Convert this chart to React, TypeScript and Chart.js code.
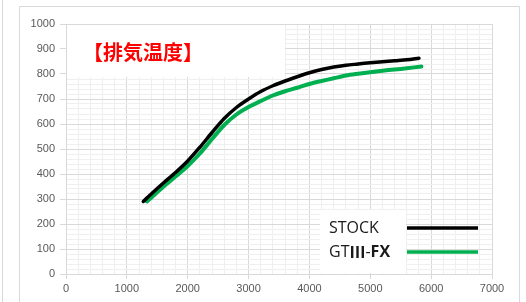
import { useEffect, useRef } from "react";
import { Chart, registerables } from "chart.js";

Chart.register(...registerables);

const TITLE = "【排気温度】";
const SERIES_NAMES = ["STOCK", "GTⅢ-FX"];

const RPM_STOCK = [1270, 1400, 1600, 1800, 2000, 2200, 2400, 2600, 2800, 3000, 3200, 3400, 3600, 3800, 4000, 4200, 4400, 4600, 4800, 5000, 5200, 5400, 5600, 5800];
const TEMP_STOCK = [290, 320, 364, 406, 452, 507, 566, 622, 666, 700, 730, 753, 772, 789, 805, 818, 828, 835, 840, 845, 849, 853, 857, 863];

const RPM_FX = [1330, 1400, 1600, 1800, 2000, 2200, 2400, 2600, 2800, 3000, 3200, 3400, 3600, 3800, 4000, 4200, 4400, 4600, 4800, 5000, 5200, 5400, 5600, 5840];
const TEMP_FX = [290, 305, 349, 390, 432, 482, 540, 596, 638, 668, 692, 714, 731, 745, 760, 772, 783, 794, 801, 807, 813, 818, 823, 830];

const X_MIN = 0, X_MAX = 7000, X_MAJOR = 1000, X_MINOR = 200;
const Y_MIN = 0, Y_MAX = 1000, Y_MAJOR = 100, Y_MINOR = 20;

const COLORS = ["#000000", "#00b050"];
const MAJOR_GRID = "#d9d9d9";
const MINOR_GRID = "#efefef";

const LEGEND_FONT = "'Open Sans', 'Noto Sans CJK JP'";
const CJK_FONT = "'Noto Sans CJK JP'";

const framePlugin = {
  id: "frame",
  beforeDraw(chart: any) {
    const ctx = chart.ctx;
    ctx.save();
    ctx.fillStyle = "#ffffff";
    ctx.fillRect(0, 0, chart.width, chart.height);
    ctx.strokeStyle = "#d9d9d9";
    ctx.lineWidth = 1;
    ctx.beginPath();
    ctx.moveTo(2.5, 0);
    ctx.lineTo(2.5, chart.height);
    ctx.moveTo(19.5, chart.height + 5);
    ctx.lineTo(19.5, 6.5);
    ctx.lineTo(519.5, 6.5);
    ctx.lineTo(519.5, chart.height + 5);
    ctx.stroke();
    ctx.restore();
  },
  beforeDatasetsDraw(chart: any) {
    const ctx = chart.ctx;
    const a = chart.chartArea;
    ctx.save();
    // title box
    ctx.fillStyle = "#ffffff";
    ctx.fillRect(a.left + 1, a.top + 1, 218, 52);
    ctx.fillStyle = "#ff0000";
    ctx.font = "bold 20px " + CJK_FONT;
    ctx.textBaseline = "middle";
    ctx.textAlign = "left";
    ctx.fillText(TITLE, 83, 52);
    // legend box
    ctx.fillStyle = "#ffffff";
    ctx.fillRect(320, 210, 86, a.bottom - 210 - 1);
    ctx.fillStyle = "#1a1a1a";
    ctx.font = "16px " + LEGEND_FONT;
    ctx.fillText(SERIES_NAMES[0], 329, 228);
    // second name: "GT" + "Ⅲ" (CJK glyph) + "-" + bold "FX"
    const name = SERIES_NAMES[1];
    const romanIdx = name.indexOf("Ⅲ");
    const dashIdx = name.indexOf("-");
    const parts = [
      { t: name.slice(0, romanIdx), f: "16px " + LEGEND_FONT },
      { t: name.slice(romanIdx, dashIdx), f: "bold 16px " + CJK_FONT },
      { t: name.slice(dashIdx, dashIdx + 1), f: "16px " + LEGEND_FONT },
      { t: name.slice(dashIdx + 1), f: "bold 16px " + LEGEND_FONT },
    ];
    let x = 329;
    parts.forEach((p) => {
      ctx.font = p.f;
      ctx.fillText(p.t, x, 252);
      x += ctx.measureText(p.t).width;
    });
    // legend lines
    ctx.lineWidth = 3.5;
    ctx.lineCap = "butt";
    [228, 252].forEach((y, i) => {
      ctx.strokeStyle = COLORS[i];
      ctx.beginPath();
      ctx.moveTo(407, y);
      ctx.lineTo(478, y);
      ctx.stroke();
    });
    ctx.restore();
  },
};

export default function App() {
  const ref = useRef<HTMLCanvasElement>(null);
  useEffect(() => {
    if (!ref.current) return;
    const tickFont = { family: "'Liberation Sans', Arial, sans-serif", size: 11 };
    const chart = new Chart(ref.current, {
      type: "line",
      data: {
        datasets: [
          {
            label: SERIES_NAMES[0],
            data: RPM_STOCK.map((x, i) => ({ x, y: TEMP_STOCK[i] })),
            borderColor: COLORS[0],
            borderWidth: 3.5,
            pointRadius: 0,
            tension: 0.3,
            borderCapStyle: "round",
            borderJoinStyle: "round",
            fill: false,
          },
          {
            label: SERIES_NAMES[1],
            data: RPM_FX.map((x, i) => ({ x, y: TEMP_FX[i] })),
            borderColor: COLORS[1],
            borderWidth: 4,
            pointRadius: 0,
            tension: 0.3,
            borderCapStyle: "round",
            borderJoinStyle: "round",
            fill: false,
          },
        ],
      },
      options: {
        responsive: false,
        animation: false,
        events: [],
        layout: { padding: { left: 0, top: 24, right: 34, bottom: 0 } },
        plugins: { legend: { display: false }, tooltip: { enabled: false }, title: { display: false } },
        scales: {
          x: {
            type: "linear",
            min: X_MIN,
            max: X_MAX,
            afterFit: (s: any) => { s.height = 28; },
            ticks: {
              stepSize: X_MINOR,
              autoSkip: false,
              maxRotation: 0,
              minRotation: 0,
              padding: 3,
              color: "#595959",
              font: tickFont,
              callback: (v: any) => (Number(v) % X_MAJOR === 0 ? String(v) : ""),
            },
            grid: {
              color: (c: any) => (c.tick && c.tick.value % X_MAJOR === 0 ? MAJOR_GRID : MINOR_GRID),
              tickColor: (c: any) => (c.tick && c.tick.value % X_MAJOR === 0 ? MAJOR_GRID : "rgba(0,0,0,0)"),
              tickLength: 5,
              lineWidth: 1,
            },
            border: { color: MAJOR_GRID },
          },
          y: {
            type: "linear",
            min: Y_MIN,
            max: Y_MAX,
            afterFit: (s: any) => { s.width = 66; },
            ticks: {
              stepSize: Y_MINOR,
              autoSkip: false,
              padding: 5,
              color: "#595959",
              font: tickFont,
              callback: (v: any) => (Number(v) % Y_MAJOR === 0 ? String(v) : ""),
            },
            grid: {
              color: (c: any) => (c.tick && c.tick.value % Y_MAJOR === 0 ? MAJOR_GRID : MINOR_GRID),
              tickColor: (c: any) => (c.tick && c.tick.value % Y_MAJOR === 0 ? MAJOR_GRID : "rgba(0,0,0,0)"),
              tickLength: 6,
              lineWidth: 1,
            },
            border: { color: MAJOR_GRID },
          },
        },
      },
      plugins: [framePlugin],
    } as any);
    return () => chart.destroy();
  }, []);
  return (
    <div style={{ position: "absolute", left: 0, top: 0, width: 526, height: 302, background: "#fff" }}>
      <canvas ref={ref} width={526} height={302} style={{ display: "block" }} />
    </div>
  );
}
